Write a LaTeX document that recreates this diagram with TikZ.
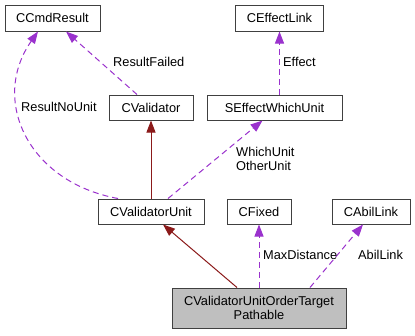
\documentclass[tikz,border=0pt]{standalone}
\usepackage{fontspec}
\setmainfont{Liberation Sans}
\usetikzlibrary{arrows.meta}
\definecolor{usecol}{HTML}{9A32CD}
\definecolor{inhcol}{HTML}{8B1A1A}

\begin{document}
\begin{tikzpicture}[x=1pt,y=-1pt,font=\fontsize{12.8}{14}\selectfont,
  cls/.style={draw=black!75,line width=1pt,fill=white,inner sep=0pt,minimum height=25pt},
  usage/.style={draw=usecol,line width=1pt,dash pattern=on 6pt off 4pt,-{Triangle[length=12pt,width=9pt]}},
  inherit/.style={draw=inhcol,line width=1pt,-{Triangle[length=12pt,width=9pt]}},
  lbl/.style={anchor=west,inner sep=0pt,align=left}]
\useasboundingbox (0,0) rectangle (415,335);

\node[cls,minimum width=95pt,minimum height=26pt] (cmdresult) at (52.5,18) {CCmdResult};
\node[cls,minimum width=88pt,minimum height=26pt] (effectlink) at (279.5,18) {CEffectLink};
\node[cls,minimum width=84pt] (validator) at (151,107.5) {CValidator};
\node[cls,minimum width=135pt] (whichunit) at (274.5,107.5) {SEffectWhichUnit};
\node[cls,minimum width=106pt] (validatorunit) at (151,211.5) {CValidatorUnit};
\node[cls,minimum width=64pt] (fixed) at (259,211.5) {CFixed};
\node[cls,minimum width=78pt] (abillink) at (371,211.5) {CAbilLink};
\node[cls,fill=black!25,minimum width=174pt,minimum height=40pt,align=center] (target) at (259,308)
  {CValidatorUnitOrderTarget\\Pathable};

\draw[inherit] (validatorunit.north) -- (validator.south);
\draw[inherit] ([xshift=-22pt]target.north) -- ([xshift=12pt]validatorunit.south);

\draw[usage] ([xshift=-14pt]validator.north) -- ([xshift=13.5pt]cmdresult.south);
\draw[usage] ([xshift=-33pt]validatorunit.north) .. controls (28,182) and (-10,100) .. ([xshift=-14.5pt]cmdresult.south);
\draw[usage] ([xshift=17pt]validatorunit.north) -- ([xshift=-12pt]whichunit.south);
\draw[usage] ([xshift=5pt]whichunit.north) -- (effectlink.south);
\draw[usage] (target.north) -- (fixed.south);
\draw[usage] ([xshift=51pt]target.north) -- ([xshift=-8pt]abillink.south);

\node[lbl] (lfailed) at (113,62) {ResultFailed};
\node[lbl] (lnounit) at (21,107) {ResultNoUnit};
\node[lbl] (leffect) at (283,62) {Effect};
\node[lbl] (lwhich) at (236,159) {WhichUnit\\OtherUnit};
\node[lbl] (ldist) at (263,255) {MaxDistance};
\node[lbl] (labil) at (358,255) {AbilLink};
\end{tikzpicture}
\end{document}
